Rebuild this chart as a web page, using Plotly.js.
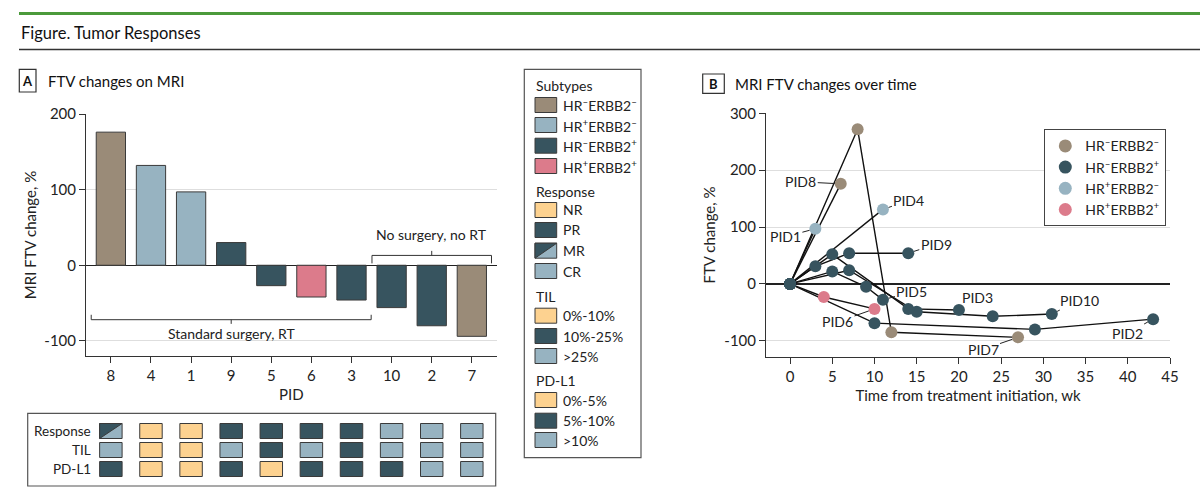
<!DOCTYPE html>
<html><head><meta charset="utf-8">
<script src="https://cdn.plot.ly/plotly-3.0.1.min.js"></script>
<style>html,body{margin:0;padding:0;background:#fff}#chart{width:1200px;height:500px}</style>
</head><body><div id="chart"></div>
<script>
// ---------- DATA ----------
const pids = ['8','4','1','9','5','6','3','10','2','7'];
const ftvChange = [176, 132, 97, 30, -27, -42, -46, -56, -80, -94];
const subtype = ['HR-ERBB2-','HR+ERBB2-','HR+ERBB2-','HR-ERBB2+','HR-ERBB2+','HR+ERBB2+','HR-ERBB2+','HR-ERBB2+','HR-ERBB2+','HR-ERBB2-'];
const response = ['MR','NR','NR','PR','PR','PR','PR','CR','CR','CR'];
const til = ['>25%','0%-10%','0%-10%','>25%','10%-25%','>25%','10%-25%','>25%','>25%','>25%'];
const pdl1 = ['5%-10%','0%-5%','0%-5%','5%-10%','0%-5%','5%-10%','5%-10%','5%-10%','>10%','>10%'];

const subtypeNames = ['HR-ERBB2-','HR+ERBB2-','HR-ERBB2+','HR+ERBB2+'];
const responseNames = ['NR','PR','MR','CR'];
const tilNames = ['0%-10%','10%-25%','>25%'];
const pdl1Names = ['0%-5%','5%-10%','>10%'];
const bLegendOrder = ['HR-ERBB2-','HR-ERBB2+','HR+ERBB2-','HR+ERBB2+'];

const surgeryGroupLabels = ['Standard surgery, RT', 'No surgery, no RT'];
const surgeryGroupFirst = ['8', '10'];
const surgeryGroupLast = ['3', '7'];

// time courses (weeks, FTV change %)
const pid1Weeks = [0, 3],            pid1Ftv = [0, 97];
const pid2Weeks = [0, 10, 29, 43],   pid2Ftv = [0, -69, -80, -62];
const pid3Weeks = [0, 5, 14, 20],    pid3Ftv = [0, 52, -44, -46];
const pid4Weeks = [0, 11],           pid4Ftv = [0, 131];
const pid5Weeks = [0, 5, 9, 11],     pid5Ftv = [0, 22, -5, -28];
const pid6Weeks = [0, 4, 10],        pid6Ftv = [0, -23, -44];
const pid7Weeks = [0, 8, 12, 27],    pid7Ftv = [0, 272, -85, -94];
const pid8Weeks = [0, 6],            pid8Ftv = [0, 176];
const pid9Weeks = [0, 3, 7, 14],     pid9Ftv = [0, 31, 54, 54];
const pid10Weeks = [0, 7, 15, 24, 31], pid10Ftv = [0, 24, -49, -57, -53];

// ---------- STYLE ----------
const W = 1200, H = 500;
const px = x => x / W, py = y => 1 - y / H;
const FONT = 'Lato, Roboto, sans-serif';
const TXT = '#222';
const C = {tan:'#9a8b78', light:'#97b3c1', dark:'#37545f', pink:'#dc7b8b', orange:'#fdd290', edge:'#3a3a3a'};
const subtypeColor = {'HR-ERBB2-':C.tan,'HR+ERBB2-':C.light,'HR-ERBB2+':C.dark,'HR+ERBB2+':C.pink};
const responseColor = {NR:C.orange, PR:C.dark, MR:C.light, CR:C.light};
const tilColor = {'0%-10%':C.orange,'10%-25%':C.dark,'>25%':C.light};
const pdColor = {'0%-5%':C.orange,'5%-10%':C.dark,'>10%':C.light};
const supLabel = s => 'HR<sup>' + (s[2]==='+'?'+':'–') + '</sup>ERBB2<sup>' + (s[8]==='+'?'+':'–') + '</sup>';

const FS = 15, FSS = 14;
const idx = pids.map((_, i) => i);
const traces = [];
const shapes = [];
const annotations = [];
const note = (o) => annotations.push(Object.assign({showarrow:false, xanchor:'left', yanchor:'middle',
  xref:'paper', yref:'paper', font:{family:FONT, size:FSS, color:TXT}}, o));

// ---------- PANEL A: bars ----------
traces.push({type:'bar', x:idx, y:ftvChange, width:0.73, xaxis:'x', yaxis:'y',
  marker:{color:subtype.map(s => subtypeColor[s]), line:{color:C.edge, width:1}},
  showlegend:false, hoverinfo:'skip'});

// ---------- PANEL A: annotation table ----------
const CELL_W = 0.56, CELL_H = 0.79;
const tableRows = [
  {name:'Response', vals:response, cmap:responseColor, row:2},
  {name:'TIL', vals:til, cmap:tilColor, row:1},
  {name:'PD-L1', vals:pdl1, cmap:pdColor, row:0}
];
tableRows.forEach(r => {
  traces.push({type:'bar', x:idx, y:idx.map(() => CELL_H), base:idx.map(() => r.row - CELL_H/2),
    width:CELL_W, xaxis:'x', yaxis:'y3',
    marker:{color:r.vals.map(v => r.cmap[v]), line:{color:C.edge, width:1}},
    showlegend:false, hoverinfo:'skip'});
  note({yref:'y3', x:px(93), y:r.row, xanchor:'right', text:r.name, font:{family:FONT, size:13.5, color:TXT}});
  r.vals.forEach((v, i) => {
    if (r.name === 'Response' && v === 'MR') {
      traces.push({type:'scatter', xaxis:'x', yaxis:'y3', mode:'lines', fill:'toself',
        x:[i - CELL_W/2, i + CELL_W/2, i - CELL_W/2, i - CELL_W/2],
        y:[r.row + CELL_H/2, r.row + CELL_H/2, r.row - CELL_H/2, r.row + CELL_H/2],
        fillcolor:C.dark, line:{color:C.edge, width:1}, showlegend:false, hoverinfo:'skip'});
    }
  });
});
shapes.push({type:'rect', xref:'paper', yref:'paper', x0:px(27.7), x1:px(495.7), y0:py(486), y1:py(413.3),
  line:{color:'#555', width:1.2}});

// brackets
surgeryGroupLabels.forEach((lab, g) => {
  const a = pids.indexOf(surgeryGroupFirst[g]) - 0.49, b = pids.indexOf(surgeryGroupLast[g]) + 0.49;
  const m = (a + b) / 2;
  const [yb, ye, yc, yt] = g === 0 ? [-72, -65.5, -77.5, -90] : [13, 2.5, 19, 41];
  shapes.push({type:'path', xref:'x', yref:'y', line:{color:'#333', width:1},
    path:`M${a},${ye} L${a},${yb} L${b},${yb} L${b},${ye} M${m},${yb} L${m},${yc}`});
  note({xref:'x', yref:'y', x:m, y:yt, xanchor:'center', text:lab});
});

// ---------- PANEL B: time courses ----------
const series = [
  {pid:'7', w:pid7Weeks, v:pid7Ftv, ax:-35, ay:12},
  {pid:'8', w:pid8Weeks, v:pid8Ftv, ax:-40, ay:-2},
  {pid:'1', w:pid1Weeks, v:pid1Ftv, ax:-30, ay:8},
  {pid:'4', w:pid4Weeks, v:pid4Ftv, ax:26, ay:-9},
  {pid:'6', w:pid6Weeks, v:pid6Ftv, ax:-37, ay:13},
  {pid:'2', w:pid2Weeks, v:pid2Ftv, ax:-26, ay:14},
  {pid:'10', w:pid10Weeks, v:pid10Ftv, ax:28, ay:-14},
  {pid:'3', w:pid3Weeks, v:pid3Ftv, ax:19, ay:-13},
  {pid:'5', w:pid5Weeks, v:pid5Ftv, ax:29, ay:-8},
  {pid:'9', w:pid9Weeks, v:pid9Ftv, ax:28, ay:-9}
];
series.forEach(s => {
  traces.push({type:'scatter', mode:'lines', x:s.w, y:s.v, xaxis:'x2', yaxis:'y2',
    line:{color:'#111', width:1.4}, showlegend:false, hoverinfo:'skip'});
});
series.forEach(s => {
  const col = subtypeColor[subtype[pids.indexOf(s.pid)]];
  traces.push({type:'scatter', mode:'markers', x:s.w, y:s.v, xaxis:'x2', yaxis:'y2',
    marker:{color:s.v.map((v, k) => k === 0 ? C.dark : col), size:12},
    showlegend:false, hoverinfo:'skip'});
  const n = s.w.length - 1;
  annotations.push({xref:'x2', yref:'y2', x:s.w[n], y:s.v[n], text:'PID' + s.pid,
    showarrow:true, arrowhead:0, arrowwidth:1, arrowcolor:'#222', standoff:6, ax:s.ax, ay:s.ay,
    xanchor:'center', yanchor:'middle', font:{family:FONT, size:FSS, color:TXT}});
});
bLegendOrder.forEach(s => {
  traces.push({type:'scatter', mode:'markers', x:[null], y:[null], xaxis:'x2', yaxis:'y2',
    name:supLabel(s), marker:{color:subtypeColor[s], size:13}, showlegend:true});
});

// ---------- middle legend ----------
shapes.push({type:'rect', xref:'paper', yref:'paper', x0:px(524.3), x1:px(641), y0:py(457.7), y1:py(69.3),
  line:{color:'#555', width:1.2}});
const legendBlocks = [
  {head:'Subtypes', headY:86, names:subtypeNames, rowsY:[105,125,145.7,166], cmap:subtypeColor, lab:supLabel},
  {head:'Response', headY:191, names:responseNames, rowsY:[210,230,250.7,271], cmap:responseColor, lab:x => x},
  {head:'TIL', headY:296, names:tilNames, rowsY:[315.7,336,356], cmap:tilColor, lab:x => x},
  {head:'PD-L1', headY:380.7, names:pdl1Names, rowsY:[400,420.7,440], cmap:pdColor, lab:x => x}
];
legendBlocks.forEach(b => {
  note({x:px(534), y:py(b.headY), text:b.head});
  b.names.forEach((nm, k) => {
    const yc = b.rowsY[k];
    shapes.push({type:'rect', xref:'paper', yref:'paper', x0:px(535), x1:px(556.7), y0:py(yc + 7.5), y1:py(yc - 7.5),
      fillcolor:b.cmap[nm], line:{color:C.edge, width:1}});
    if (b.head === 'Response' && nm === 'MR') {
      shapes.push({type:'path', xref:'paper', yref:'paper', fillcolor:C.dark, line:{color:C.edge, width:1},
        path:`M${px(535)},${py(yc-7.5)} L${px(556.7)},${py(yc-7.5)} L${px(535)},${py(yc+7.5)} Z`});
    }
    note({x:px(561), y:py(yc), text:b.lab(nm)});
  });
});

// ---------- header ----------
shapes.push({type:'rect', xref:'paper', yref:'paper', x0:px(19), x1:1, y0:py(15), y1:py(12),
  fillcolor:'#4b9a3b', line:{width:0}});
shapes.push({type:'line', xref:'paper', yref:'paper', x0:px(19), x1:1, y0:py(49.5), y1:py(49.5),
  line:{color:'#333', width:1.5}});
note({x:px(19), y:py(33), text:'Figure. Tumor Responses', font:{family:FONT, size:16.5, color:'#111'}});
[['A', 19.3, 36, 69.3, 92, 'FTV changes on MRI', 46], ['B', 702.7, 724.3, 74, 93.3, 'MRI FTV changes over time', 733]]
  .forEach(([l, x0, x1, y0, y1, t, tx]) => {
  shapes.push({type:'rect', xref:'paper', yref:'paper', x0:px(x0), x1:px(x1), y0:py(y1), y1:py(y0),
    line:{color:'#333', width:1.2}});
  note({x:px((x0+x1)/2), y:py((y0+y1)/2), xanchor:'center', text:'<b>'+l+'</b>',
    font:{family:FONT, size:13, color:'#111'}});
  note({x:px(tx), y:py((y0+y1)/2), text:t, font:{family:FONT, size:15, color:'#111'}});
});

// ---------- axes ----------
const tickFont = {family:FONT, size:FS, color:TXT};
const titleFont = {family:FONT, size:FS, color:TXT};
const axBase = {showline:true, linecolor:'#333', linewidth:1, ticks:'outside', ticklen:6, tickcolor:'#333',
  tickfont:tickFont, automargin:false};
const layout = {
  width:W, height:H, margin:{l:0, r:0, t:0, b:0}, paper_bgcolor:'#fff', plot_bgcolor:'#fff',
  font:{family:FONT, color:TXT}, barmode:'overlay', showlegend:true,
  xaxis:Object.assign({}, axBase, {domain:[px(86), px(496.7)], range:[-0.62, 9.62], anchor:'y',
    tickvals:idx, ticktext:pids, showgrid:false, zeroline:false,
    title:{text:'PID', font:titleFont, standoff:6}}),
  yaxis:Object.assign({}, axBase, {domain:[py(356), py(114)], range:[-120, 200], anchor:'x',
    tickvals:[-100, 0, 100, 200], ticktext:['-100','0','100','200'],
    showgrid:true, gridcolor:'#dedede', gridwidth:1, zeroline:true, zerolinecolor:'#222', zerolinewidth:1.3,
    title:{text:'MRI FTV change, %', font:titleFont, standoff:4}}),
  yaxis3:{domain:[py(488), py(412)], range:[-1, 3], anchor:'x', visible:false, fixedrange:true},
  xaxis2:Object.assign({}, axBase, {domain:[px(766), px(1170)], range:[-2.85, 45], anchor:'y2',
    tickvals:[0,5,10,15,20,25,30,35,40,45], showgrid:false, zeroline:false,
    title:{text:'Time from treatment initiation, wk', font:titleFont, standoff:6}}),
  yaxis2:Object.assign({}, axBase, {domain:[py(356.7), py(113.3)], range:[-128, 300], anchor:'x2',
    tickvals:[-100, 0, 100, 200, 300], ticktext:['-100','0','100','200','300'],
    showgrid:true, gridcolor:'#dedede', gridwidth:1, zeroline:true, zerolinecolor:'#222', zerolinewidth:1.3,
    title:{text:'FTV change, %', font:titleFont, standoff:5}}),
  legend:{x:px(1044.3), y:py(129.3), xanchor:'left', yanchor:'top', bgcolor:'#fff',
    bordercolor:'#444', borderwidth:1, font:{family:FONT, size:FSS, color:TXT}, tracegroupgap:0,
    itemwidth:30},
  shapes:shapes, annotations:annotations
};
Plotly.newPlot('chart', traces, layout, {staticPlot:true, displayModeBar:false});
</script></body></html>
